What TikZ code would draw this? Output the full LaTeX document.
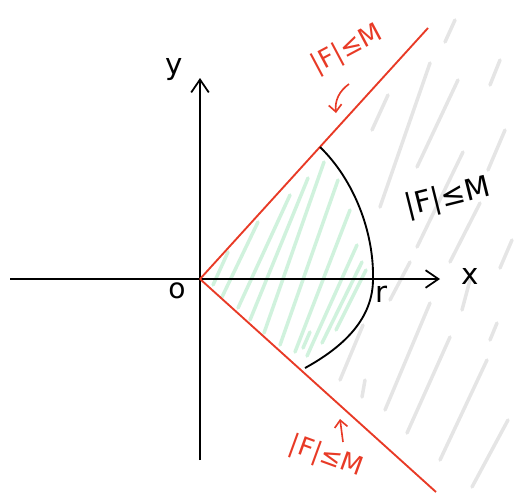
\documentclass[tikz,border=0pt]{standalone}
\usepackage{fontspec}
\setmainfont{DejaVu Sans}
\usetikzlibrary{arrows.meta}

\definecolor{penred}{RGB}{232,58,38}
\definecolor{hatchgreen}{RGB}{110,215,150}
\definecolor{hatchgray}{RGB}{175,175,175}

\tikzset{
  axisline/.style={line width=1.5pt,-{Straight Barb[length=11pt,width=15pt,line width=1.5pt]}},
  boundline/.style={penred,line width=1.6pt},
  penlabel/.style={font=\fontsize{22}{26}\selectfont,inner sep=0pt},
  penarrow/.style={penred,line width=1.4pt,-{Straight Barb[length=6pt,width=11pt,line width=1.4pt]}},
  hatch/.style={line width=3pt,line cap=round,opacity=0.32}
}

\begin{document}
\begin{tikzpicture}[x=0.03cm,y=-0.03cm,>=Stealth]
            \useasboundingbox (0,0) rectangle (514,493);
            \coordinate (O) at (200,279);
            \coordinate (A) at (320,147);
            \coordinate (R) at (373,279);
            \coordinate (B) at (305,368);
            \coordinate (U) at (428,28);
            \coordinate (L) at (436,492);
            % green hatching inside the sector
            \foreach \xa/\ya/\xb/\yb in {213/285/228/252, 222/297/258/222, 238/308/290/195,
                250/320/308/178, 264/333/324/162, 280/345/338/180, 295/352/350/210,
                307/356/357/245, 322/343/362/262, 336/330/366/270, 303/348/310/332}
              \draw [hatch,hatchgreen] (\xa,\ya) -- (\xb,\yb);
            % gray hatching outside the arc
            \foreach \xa/\ya/\xb/\yb in {388/95/372/130, 430/63/380/207, 458/80/417/167,
                463/152/417/247, 480/203/450/262, 410/262/390/300, 470/280/462/310,
                363/325/340/380, 365/380/362/397, 430/303/385/410, 450/337/407/433,
                487/360/440/460, 497/323/490/340, 508/420/472/487, 505/130/488/170,
                512/240/500/268, 455/20/445/42, 500/60/490/85}
              \draw [hatch,hatchgray] (\xa,\ya) -- (\xb,\yb);
            % axes
            \draw [axisline] (10,279) -- (440,279) coordinate (xend);
            \draw [axisline] (200,460) -- (200,78) coordinate (yend);
            % boundary of the cone
            \draw [boundline] (O) -- (U);
            \draw [boundline] (O) -- (L);
            % the arc of radius r
            \draw [line width=1.6pt] (A) .. controls (354,180) and (374,232) .. (R)
                  .. controls (373,318) and (345,346) .. (B);
            % labels
            \node [penlabel,font=\fontsize{25}{28}\selectfont] (ylab) at (174,70) {y};
            \node [penlabel,font=\fontsize{25}{28}\selectfont] (xlab) at (470,276) {x};
            \node [penlabel,font=\fontsize{24}{28}\selectfont] (olab) at (177,291) {o};
            \node [penlabel,font=\fontsize{25}{28}\selectfont] (rlab) at (382,294) {r};
            \node [penlabel,penred,rotate=28] (uplab) at (347,50) {|F|≤M};
            \node [penlabel,rotate=14,font=\fontsize{25}{28}\selectfont] (midlab) at (448,198) {|F|≤M};
            \node [penlabel,penred,rotate=-20] (lowlab) at (326,457) {|F|≤M};
            \coordinate (upt) at (336,113);
            \coordinate (upf) at (349,84);
            \coordinate (lowt) at (340,419);
            \coordinate (lowf) at (343,442);
            \draw [penarrow] (upf) to[bend right=30] (upt);
            \draw [penarrow] (lowf) -- (lowt);
        \end{tikzpicture}
\end{document}
